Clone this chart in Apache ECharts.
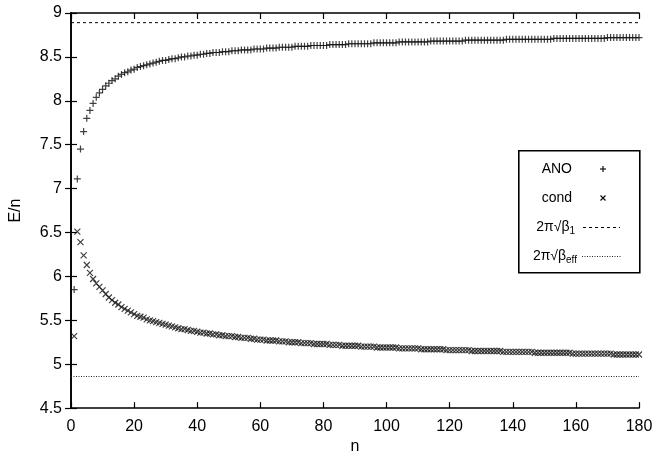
<!DOCTYPE html>
<html>
<head>
<meta charset="utf-8">
<script src="https://cdn.jsdelivr.net/npm/echarts@6/dist/echarts.min.js"></script>
<style>
  html, body { margin: 0; padding: 0; background: #fff; }
  #chart { width: 657px; height: 460px; }
</style>
</head>
<body>
<div id="chart"></div>
<script>
// E/n for n = 1..180
var anoValues = [
  5.85, 7.11, 7.45, 7.65, 7.80, 7.89, 7.97, 8.04, 8.09, 8.13,
  8.17, 8.20, 8.23, 8.25, 8.28, 8.30, 8.32, 8.33, 8.35, 8.36,
  8.38, 8.39, 8.40, 8.41, 8.42, 8.43, 8.44, 8.45, 8.46, 8.46,
  8.47, 8.48, 8.48, 8.49, 8.50, 8.50, 8.51, 8.51, 8.52, 8.52,
  8.53, 8.53, 8.54, 8.54, 8.55, 8.55, 8.55, 8.56, 8.56, 8.56,
  8.57, 8.57, 8.57, 8.58, 8.58, 8.58, 8.58, 8.59, 8.59, 8.59,
  8.59, 8.60, 8.60, 8.60, 8.60, 8.61, 8.61, 8.61, 8.61, 8.61,
  8.62, 8.62, 8.62, 8.62, 8.62, 8.63, 8.63, 8.63, 8.63, 8.63,
  8.63, 8.64, 8.64, 8.64, 8.64, 8.64, 8.64, 8.65, 8.65, 8.65,
  8.65, 8.65, 8.65, 8.65, 8.65, 8.66, 8.66, 8.66, 8.66, 8.66,
  8.66, 8.66, 8.66, 8.67, 8.67, 8.67, 8.67, 8.67, 8.67, 8.67,
  8.67, 8.67, 8.67, 8.68, 8.68, 8.68, 8.68, 8.68, 8.68, 8.68,
  8.68, 8.68, 8.68, 8.68, 8.69, 8.69, 8.69, 8.69, 8.69, 8.69,
  8.69, 8.69, 8.69, 8.69, 8.69, 8.69, 8.69, 8.70, 8.70, 8.70,
  8.70, 8.70, 8.70, 8.70, 8.70, 8.70, 8.70, 8.70, 8.70, 8.70,
  8.70, 8.70, 8.71, 8.71, 8.71, 8.71, 8.71, 8.71, 8.71, 8.71,
  8.71, 8.71, 8.71, 8.71, 8.71, 8.71, 8.71, 8.71, 8.71, 8.72,
  8.72, 8.72, 8.72, 8.72, 8.72, 8.72, 8.72, 8.72, 8.72, 8.72
];

var condValues = [
  5.32, 6.51, 6.39, 6.24, 6.13, 6.04, 5.97, 5.92, 5.88, 5.84,
  5.80, 5.76, 5.73, 5.70, 5.68, 5.65, 5.63, 5.61, 5.59, 5.57,
  5.55, 5.54, 5.53, 5.51, 5.50, 5.49, 5.48, 5.47, 5.46, 5.45,
  5.44, 5.43, 5.42, 5.41, 5.40, 5.40, 5.39, 5.38, 5.38, 5.37,
  5.36, 5.36, 5.35, 5.35, 5.34, 5.34, 5.33, 5.33, 5.32, 5.32,
  5.32, 5.31, 5.31, 5.30, 5.30, 5.30, 5.29, 5.29, 5.28, 5.28,
  5.28, 5.27, 5.27, 5.27, 5.27, 5.26, 5.26, 5.26, 5.25, 5.25,
  5.25, 5.25, 5.24, 5.24, 5.24, 5.24, 5.23, 5.23, 5.23, 5.23,
  5.23, 5.22, 5.22, 5.22, 5.22, 5.21, 5.21, 5.21, 5.21, 5.21,
  5.21, 5.20, 5.20, 5.20, 5.20, 5.20, 5.19, 5.19, 5.19, 5.19,
  5.19, 5.19, 5.19, 5.18, 5.18, 5.18, 5.18, 5.18, 5.18, 5.18,
  5.17, 5.17, 5.17, 5.17, 5.17, 5.17, 5.17, 5.17, 5.16, 5.16,
  5.16, 5.16, 5.16, 5.16, 5.16, 5.16, 5.15, 5.15, 5.15, 5.15,
  5.15, 5.15, 5.15, 5.15, 5.15, 5.15, 5.14, 5.14, 5.14, 5.14,
  5.14, 5.14, 5.14, 5.14, 5.14, 5.14, 5.13, 5.13, 5.13, 5.13,
  5.13, 5.13, 5.13, 5.13, 5.13, 5.13, 5.13, 5.13, 5.12, 5.12,
  5.12, 5.12, 5.12, 5.12, 5.12, 5.12, 5.12, 5.12, 5.12, 5.12,
  5.12, 5.11, 5.11, 5.11, 5.11, 5.11, 5.11, 5.11, 5.11, 5.11
];

// horizontal reference levels 2*pi*sqrt(beta)
var beta1Level = 8.89;
var betaEffLevel = 4.86;

var xLimits = [0, 180];
var yLimits = [4.5, 9];

var FONT = "'Liberation Sans', Arial, Helvetica, sans-serif";
var INK = '#000';
var MARK = '#111';

function toPoints(values) {
  return values.map(function (v, i) { return [i + 1, v]; });
}

function levelLine(level) {
  return [[xLimits[0], level], [xLimits[1], level]];
}

var chart = echarts.init(document.getElementById('chart'), null, { renderer: 'canvas' });

var frameAxis = {
  axisLine: { show: true, lineStyle: { color: INK, width: 1.6 } },
  axisTick: { show: true, inside: true, length: 6, lineStyle: { color: INK, width: 1.2 } },
  splitLine: { show: false }
};

var option = {
  animation: false,
  backgroundColor: '#fff',
  grid: { left: 71, right: 18, top: 13, bottom: 46 },
  xAxis: [
    echarts.util.merge({
      type: 'value', position: 'bottom',
      min: xLimits[0], max: xLimits[1], interval: 20,
      name: 'n', nameLocation: 'middle', nameGap: 28,
      nameTextStyle: { color: INK, fontSize: 16, fontFamily: FONT },
      axisLabel: { color: INK, fontSize: 16, fontFamily: FONT, margin: 10 }
    }, frameAxis, true),
    echarts.util.merge({
      type: 'value', position: 'top',
      min: xLimits[0], max: xLimits[1], interval: 20,
      axisLabel: { show: false }
    }, frameAxis, true)
  ],
  yAxis: [
    echarts.util.merge({
      type: 'value', position: 'left',
      min: yLimits[0], max: yLimits[1], interval: 0.5,
      name: 'E/n', nameLocation: 'middle', nameGap: 47,
      nameTextStyle: { color: INK, fontSize: 16, fontFamily: FONT },
      axisLabel: { color: INK, fontSize: 16, fontFamily: FONT, margin: 9 }
    }, frameAxis, true),
    echarts.util.merge({
      type: 'value', position: 'right',
      min: yLimits[0], max: yLimits[1], interval: 0.5,
      axisLabel: { show: false }
    }, frameAxis, true)
  ],
  series: [
    {
      name: 'ANO',
      type: 'scatter',
      data: toPoints(anoValues),
      symbol: 'path://M3,0L3,6M0,3L6,3',
      symbolSize: 7,
      itemStyle: { color: 'none', borderColor: MARK, borderWidth: 1.2 }
    },
    {
      name: 'cond',
      type: 'scatter',
      data: toPoints(condValues),
      symbol: 'path://M0,0L6,6M6,0L0,6',
      symbolSize: 6,
      itemStyle: { color: 'none', borderColor: MARK, borderWidth: 1.2 }
    },
    {
      name: 'beta1',
      type: 'line',
      data: levelLine(beta1Level),
      symbol: 'none',
      lineStyle: { color: INK, width: 1, type: [3, 3] }
    },
    {
      name: 'betaEff',
      type: 'line',
      data: levelLine(betaEffLevel),
      symbol: 'none',
      lineStyle: { color: '#222', width: 1, type: [1, 1.5] }
    }
  ],
  // gnuplot style key: right aligned labels, samples on the right
  graphic: [
    {
      type: 'rect', left: 518, top: 150, silent: true,
      shape: { width: 121, height: 122 },
      style: { fill: '#fff', stroke: INK, lineWidth: 1.6 }
    },
    {
      type: 'text', x: 572, y: 169, silent: true,
      style: { text: 'ANO', align: 'right', verticalAlign: 'middle', fill: INK, fontSize: 14, fontFamily: FONT }
    },
    {
      type: 'text', x: 572, y: 198, silent: true,
      style: { text: 'cond', align: 'right', verticalAlign: 'middle', fill: INK, fontSize: 14, fontFamily: FONT }
    },
    {
      type: 'text', x: 575, y: 227, silent: true,
      style: {
        text: '{m|2π√β}{s|1}', align: 'right', verticalAlign: 'middle', fill: INK, fontFamily: FONT,
        rich: {
          m: { fontSize: 14, fontFamily: FONT, fill: INK },
          s: { fontSize: 10, fontFamily: FONT, fill: INK, padding: [8, 0, 0, 0] }
        }
      }
    },
    {
      type: 'text', x: 577, y: 256, silent: true,
      style: {
        text: '{m|2π√β}{s|eff}', align: 'right', verticalAlign: 'middle', fill: INK, fontFamily: FONT,
        rich: {
          m: { fontSize: 14, fontFamily: FONT, fill: INK },
          s: { fontSize: 10, fontFamily: FONT, fill: INK, padding: [8, 0, 0, 0] }
        }
      }
    },
    {
      type: 'group', silent: true,
      children: [
        { type: 'line', shape: { x1: 603, y1: 166, x2: 603, y2: 172 }, style: { stroke: MARK, lineWidth: 1.2 } },
        { type: 'line', shape: { x1: 600, y1: 169, x2: 606, y2: 169 }, style: { stroke: MARK, lineWidth: 1.2 } },
        { type: 'line', shape: { x1: 600.5, y1: 195.5, x2: 605.5, y2: 200.5 }, style: { stroke: MARK, lineWidth: 1.2 } },
        { type: 'line', shape: { x1: 605.5, y1: 195.5, x2: 600.5, y2: 200.5 }, style: { stroke: MARK, lineWidth: 1.2 } },
        { type: 'line', shape: { x1: 583, y1: 227.5, x2: 620, y2: 227.5 }, style: { stroke: INK, lineWidth: 1, lineDash: [3, 3] } },
        { type: 'line', shape: { x1: 582, y1: 256.5, x2: 621, y2: 256.5 }, style: { stroke: '#222', lineWidth: 1, lineDash: [1, 1.5] } }
      ]
    }
  ]
};

chart.setOption(option);
</script>
</body>
</html>
